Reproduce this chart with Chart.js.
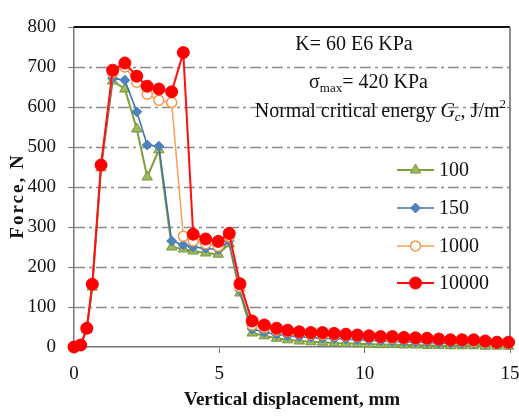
<!DOCTYPE html>
<html>
<head>
<meta charset="utf-8">
<script src="https://cdn.jsdelivr.net/npm/chart.js@4.4.0/dist/chart.umd.min.js"></script>
<style>
  html, body { margin: 0; padding: 0; background: #fff; }
  canvas { display: block; }
</style>
</head>
<body>
<canvas id="chart" width="519" height="419"></canvas>
<script>
// vertical displacement, mm (shared by all series)
const displacement = [0, 0.23, 0.44, 0.63, 0.93, 1.33, 1.75, 2.16, 2.52, 2.92,
  3.36, 3.76, 4.1, 4.53, 4.96, 5.34, 5.71, 6.13, 6.55, 6.97,
  7.35, 7.75, 8.15, 8.55, 8.95, 9.35, 9.75, 10.15, 10.55, 10.95,
  11.35, 11.75, 12.15, 12.55, 12.95, 13.35, 13.75, 14.15, 14.55, 14.95];

// force, N, for each normal critical energy Gc
const force100 = [0, 4, 43, 150, 448, 665, 645, 545, 425, 493,
  250, 245, 240, 235, 232, 258, 135, 35, 28, 22,
  18, 15, 13, 12, 10, 9, 8, 7, 6, 6,
  5, 5, 4, 4, 3, 3, 3, 2, 2, 2];
const force150 = [0, 5, 45, 153, 450, 672, 667, 588, 505, 502,
  265, 255, 250, 247, 244, 265, 142, 45, 37, 32,
  28, 26, 24, 22, 21, 20, 18, 17, 15, 14,
  13, 12, 11, 10, 9, 8, 8, 7, 7, 6];
const force1000 = [0, 5, 46, 155, 452, 686, 700, 662, 632, 617,
  611, 277, 265, 258, 252, 276, 150, 55, 48, 42,
  38, 35, 32, 31, 30, 28, 27, 25, 23, 22,
  21, 20, 19, 18, 16, 15, 14, 12, 11, 10];
const force10000 = [0, 5, 47, 157, 455, 692, 710, 677, 652, 645,
  638, 736, 282, 270, 264, 284, 158, 65, 55, 47,
  42, 38, 36, 36, 34, 32, 30, 28, 26, 26,
  24, 23, 22, 20, 18, 18, 18, 15, 12, 12];

const seriesNames = ['100', '150', '1000', '10000'];
const xTicks = [0, 5, 10, 15];
const yTicks = [0, 100, 200, 300, 400, 500, 600, 700, 800];

const pts = arr => displacement.map((x, i) => ({ x: x, y: arr[i] }));

const serif = '"Liberation Serif", "Times New Roman", serif';

const datasets = [
  {
    label: seriesNames[0], data: pts(force100), order: 3, clip: false,
    borderColor: '#7f9f3c', borderWidth: 2,
    pointStyle: 'triangle', pointRadius: 6,
    pointBackgroundColor: '#9bbb59', pointBorderColor: '#76923c', pointBorderWidth: 1
  },
  {
    label: seriesNames[1], data: pts(force150), order: 2, clip: false,
    borderColor: '#3d6fa8', borderWidth: 1.5,
    pointStyle: 'rectRot', pointRadius: 5,
    pointBackgroundColor: '#4f81bd', pointBorderColor: '#4f81bd', pointBorderWidth: 1
  },
  {
    label: seriesNames[2], data: pts(force1000), order: 1, clip: false,
    borderColor: '#f5a060', borderWidth: 1.5,
    pointStyle: 'circle', pointRadius: 5,
    pointBackgroundColor: '#ffffff', pointBorderColor: '#f79646', pointBorderWidth: 1.5
  },
  {
    label: seriesNames[3], data: pts(force10000), order: 0, clip: false,
    borderColor: '#ff1010', borderWidth: 2,
    pointStyle: 'circle', pointRadius: 6,
    pointBackgroundColor: '#ff0000', pointBorderColor: '#ff0000', pointBorderWidth: 1
  }
];

// dash-dot grid, frame, legend and text inside the plot
const extras = {
  id: 'extras',
  beforeDatasetsDraw(chart) {
    const ctx = chart.ctx;
    const a = chart.chartArea;
    const ys = chart.scales.y;
    ctx.save();
    ctx.strokeStyle = '#8a8a8a';
    ctx.lineWidth = 1.3;
    ctx.setLineDash([11, 4, 3, 4]);
    yTicks.slice(1, -1).forEach(v => {
      const py = Math.round(ys.getPixelForValue(v)) + 0.5;
      ctx.beginPath();
      ctx.moveTo(a.left, py);
      ctx.lineTo(a.right, py);
      ctx.stroke();
    });
    ctx.setLineDash([]);
    ctx.strokeStyle = '#111';
    ctx.lineWidth = 2;
    ctx.beginPath();
    ctx.moveTo(a.left, a.top);
    ctx.lineTo(a.right, a.top);
    ctx.stroke();
    ctx.strokeStyle = '#666';
    ctx.lineWidth = 1.5;
    ctx.beginPath();
    ctx.moveTo(a.right, a.top);
    ctx.lineTo(a.right, a.bottom);
    ctx.stroke();
    ctx.restore();
  },
  afterDraw(chart) {
    const ctx = chart.ctx;
    ctx.save();
    ctx.fillStyle = '#111';
    ctx.textBaseline = 'middle';

    // y axis title
    ctx.save();
    ctx.translate(18, 196);
    ctx.rotate(-Math.PI / 2);
    ctx.font = 'bold 19px ' + serif;
    ctx.letterSpacing = '2px';
    ctx.textAlign = 'center';
    ctx.fillText('Force, N', 0, 0);
    ctx.restore();

    // annotations
    ctx.font = '20px ' + serif;
    ctx.textAlign = 'center';
    ctx.fillText('K= 60 E6 KPa', 354, 45);

    ctx.textAlign = 'left';
    let x = 309;
    ctx.fillText('\u03c3', x, 83);
    x += ctx.measureText('\u03c3').width;
    ctx.font = '13px ' + serif;
    ctx.fillText('max', x, 89);
    x += ctx.measureText('max').width;
    ctx.font = '20px ' + serif;
    ctx.fillText('= 420 KPa', x, 83);

    const parts = [
      ['Normal critical energy ', '20px ' + serif, 0],
      ['G', 'italic 20px ' + serif, 0],
      ['c', 'italic 13px ' + serif, 6],
      [', J/m', '20px ' + serif, 0],
      ['2', '13px ' + serif, -7]
    ];
    let total = 0;
    parts.forEach(p => { ctx.font = p[1]; total += ctx.measureText(p[0]).width; });
    x = 506 - total;
    parts.forEach(p => {
      ctx.font = p[1];
      ctx.fillText(p[0], x, 112 + p[2]);
      x += ctx.measureText(p[0]).width;
    });

    // legend
    const rowsY = [170, 208, 246, 283];
    chart.data.datasets.forEach((ds, i) => {
      const y = rowsY[i];
      ctx.strokeStyle = ds.borderColor;
      ctx.lineWidth = ds.borderWidth;
      ctx.beginPath();
      ctx.moveTo(397, y);
      ctx.lineTo(434, y);
      ctx.stroke();
      ctx.fillStyle = ds.pointBackgroundColor;
      ctx.strokeStyle = ds.pointBorderColor;
      ctx.lineWidth = ds.pointBorderWidth;
      Chart.helpers.drawPoint(ctx, {
        pointStyle: ds.pointStyle, radius: ds.pointRadius, rotation: 0, borderWidth: ds.pointBorderWidth
      }, 415.5, y);
      ctx.fillStyle = '#111';
      ctx.font = '20px ' + serif;
      ctx.textAlign = 'left';
      ctx.fillText(ds.label, 439, y + 1);
    });
    ctx.restore();
  }
};

new Chart(document.getElementById('chart').getContext('2d'), {
  type: 'line',
  data: { datasets: datasets },
  options: {
    responsive: false,
    animation: false,
    devicePixelRatio: 1,
    layout: { padding: { top: 27, right: 9, bottom: 0, left: 0 } },
    plugins: {
      legend: { display: false },
      tooltip: { enabled: false }
    },
    elements: { line: { tension: 0 } },
    scales: {
      x: {
        type: 'linear',
        min: 0, max: 15,
        afterBuildTicks: s => { s.ticks = xTicks.map(v => ({ value: v })); },
        afterFit: s => { s.height = 72; s.paddingLeft = 0; s.paddingRight = 0; },
        ticks: {
          color: '#111',
          font: { family: serif, size: 19 },
          padding: 10,
          maxRotation: 0
        },
        grid: {
          drawOnChartArea: false,
          drawTicks: true,
          tickLength: 6,
          tickColor: '#777'
        },
        border: { color: '#777', width: 1.5 },
        title: {
          display: true,
          text: 'Vertical displacement, mm',
          color: '#111',
          font: { family: serif, size: 19, weight: 'bold' },
          padding: { top: 0, bottom: 8 }
        }
      },
      y: {
        min: 0, max: 800,
        afterBuildTicks: s => { s.ticks = yTicks.map(v => ({ value: v })); },
        afterFit: s => { s.width = 74; s.paddingTop = 0; s.paddingBottom = 0; },
        ticks: {
          color: '#111',
          font: { family: serif, size: 19 },
          padding: 12
        },
        grid: {
          drawOnChartArea: false,
          drawTicks: true,
          tickLength: 6,
          tickColor: '#777'
        },
        border: { color: '#777', width: 1.5 }
      }
    }
  },
  plugins: [extras]
});
</script>
</body>
</html>
